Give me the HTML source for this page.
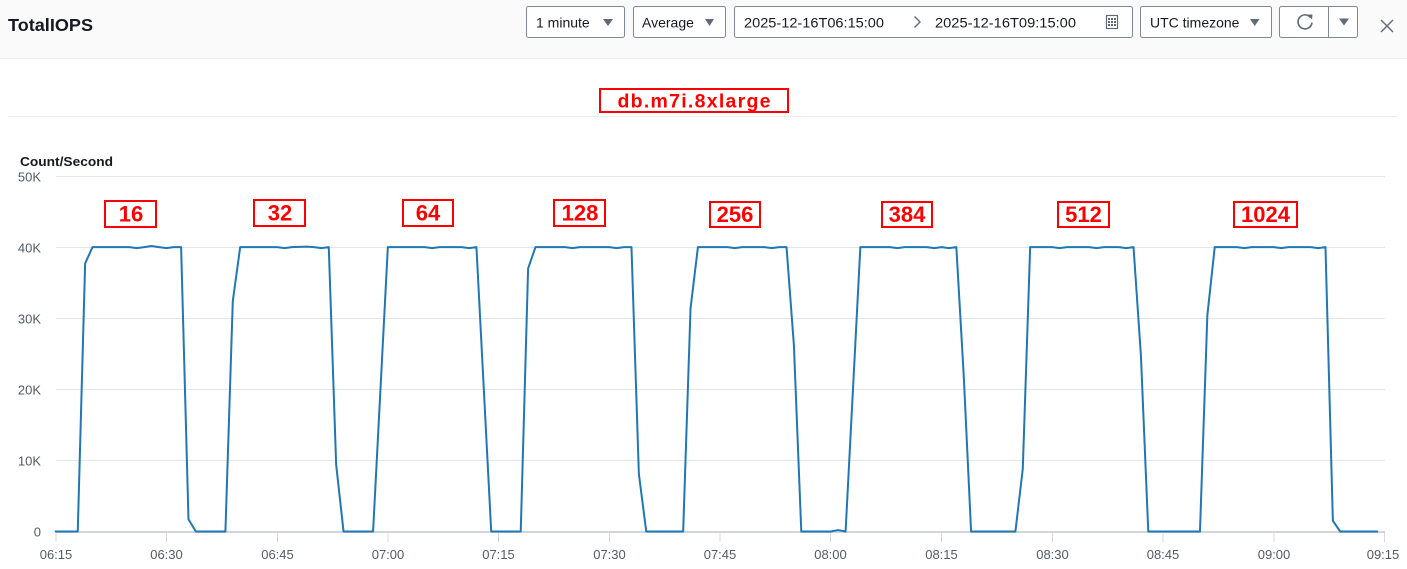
<!DOCTYPE html>
<html>
<head>
<meta charset="utf-8">
<style>
  html,body{margin:0;padding:0;background:#fff;}
  body{width:1407px;height:569px;overflow:hidden;}
  svg{display:block;font-family:"Liberation Sans",Arial,sans-serif;}
</style>
</head>
<body>
<svg width="1407" height="569" viewBox="0 0 1407 569" xmlns="http://www.w3.org/2000/svg">
  <!-- Header -->
  <rect x="0" y="0" width="1407" height="58" fill="#fafafa"/>
  <line x1="0" y1="58.5" x2="1407" y2="58.5" stroke="#e9ebed" stroke-width="1"/>
  <text x="8" y="31" font-size="17.5" font-weight="bold" fill="#16191f" textLength="85" lengthAdjust="spacingAndGlyphs">TotalIOPS</text>

  <g font-size="14" fill="#16191f">
    <rect x="526.5" y="6.5" width="98" height="31" rx="2" fill="#fff" stroke="#7d8998"/>
    <text x="536" y="27.5">1 minute</text>
    <polygon points="603,19 613,19 608,26" fill="#5f6b7a"/>

    <rect x="633.5" y="6.5" width="92" height="31" rx="2" fill="#fff" stroke="#7d8998"/>
    <text x="642" y="27.5">Average</text>
    <polygon points="705,19 714,19 709.5,26" fill="#5f6b7a"/>

    <rect x="734.5" y="6.5" width="398" height="31" rx="2" fill="#fff" stroke="#7d8998"/>
    <text x="744" y="27.5" textLength="140" lengthAdjust="spacingAndGlyphs">2025-12-16T06:15:00</text>
    <polyline points="914.5,16.5 920,22 914.5,27.5" fill="none" stroke="#5f6b7a" stroke-width="1.4"/>
    <text x="935" y="27.5" textLength="141" lengthAdjust="spacingAndGlyphs">2025-12-16T09:15:00</text>
    <!-- calendar icon -->
    <rect x="1106.5" y="15.5" width="11" height="13" fill="none" stroke="#5f6b7a" stroke-width="1.2"/>
    <g fill="#5f6b7a">
      <rect x="1108" y="18" width="2" height="2"/><rect x="1111" y="18" width="2" height="2"/><rect x="1114" y="18" width="2" height="2"/>
      <rect x="1108" y="21" width="2" height="2"/><rect x="1111" y="21" width="2" height="2"/><rect x="1114" y="21" width="2" height="2"/>
      <rect x="1108" y="24" width="2" height="2"/><rect x="1111" y="24" width="2" height="2"/><rect x="1114" y="24" width="2" height="2"/>
    </g>

    <rect x="1140.5" y="6.5" width="131" height="31" rx="2" fill="#fff" stroke="#7d8998"/>
    <text x="1150" y="27.5">UTC timezone</text>
    <polygon points="1250,19 1259.5,19 1254.75,26" fill="#5f6b7a"/>

    <rect x="1279.5" y="6.5" width="78" height="31" rx="2" fill="#fff" stroke="#7d8998"/>
    <line x1="1328.5" y1="7" x2="1328.5" y2="37" stroke="#7d8998"/>
    <path d="M1310.5,17.5 A7,7 0 1 0 1312,22.5" fill="none" stroke="#5f6b7a" stroke-width="1.6"/>
    <polygon points="1307.5,14.5 1312.5,14.5 1312,19.5" fill="#5f6b7a"/>
    <polygon points="1339,18.5 1349,18.5 1344,25.5" fill="#5f6b7a"/>
  </g>
  <!-- close X -->
  <line x1="1381" y1="20" x2="1393" y2="32" stroke="#5f6b7a" stroke-width="1.4"/>
  <line x1="1393" y1="20" x2="1381" y2="32" stroke="#5f6b7a" stroke-width="1.4"/>

  <!-- Chart title -->
  <rect x="600" y="89" width="188" height="23" fill="none" stroke="#ff0000" stroke-width="2"/>
  <text x="694" y="107.5" font-size="19.5" font-weight="bold" fill="#ff0000" text-anchor="middle" textLength="153" lengthAdjust="spacing">db.m7i.8xlarge</text>
  <line x1="8" y1="116.5" x2="1397" y2="116.5" stroke="#e9ebed" stroke-width="1"/>

  <!-- Y axis unit -->
  <text x="20" y="166" font-size="13" font-weight="bold" fill="#16191f" textLength="93" lengthAdjust="spacingAndGlyphs">Count/Second</text>

  <!-- gridlines -->
  <g stroke="#e3e6e8" stroke-width="1">
    <line x1="56" y1="176.5" x2="1385" y2="176.5"/>
    <line x1="56" y1="247.5" x2="1385" y2="247.5"/>
    <line x1="56" y1="318.5" x2="1385" y2="318.5"/>
    <line x1="56" y1="389.5" x2="1385" y2="389.5"/>
    <line x1="56" y1="460.5" x2="1385" y2="460.5"/>
  </g>
  <!-- ticks -->
  <g stroke="#d5dbdb" stroke-width="1">
    <line x1="56" y1="532" x2="56" y2="542"/>
    <line x1="166.5" y1="532" x2="166.5" y2="542"/>
    <line x1="277.5" y1="532" x2="277.5" y2="542"/>
    <line x1="388" y1="532" x2="388" y2="542"/>
    <line x1="498.5" y1="532" x2="498.5" y2="542"/>
    <line x1="609.5" y1="532" x2="609.5" y2="542"/>
    <line x1="720" y1="532" x2="720" y2="542"/>
    <line x1="830.5" y1="532" x2="830.5" y2="542"/>
    <line x1="941.5" y1="532" x2="941.5" y2="542"/>
    <line x1="1052.5" y1="532" x2="1052.5" y2="542"/>
    <line x1="1163" y1="532" x2="1163" y2="542"/>
    <line x1="1274" y1="532" x2="1274" y2="542"/>
    <line x1="1384.5" y1="532" x2="1384.5" y2="542"/>
  </g>
  <line x1="56" y1="532" x2="1385" y2="532" stroke="#d1d5db" stroke-width="2"/>

  <!-- Y labels -->
  <g font-size="13" fill="#545b64" text-anchor="end">
    <text x="41" y="181.5">50K</text>
    <text x="41" y="252.5">40K</text>
    <text x="41" y="323.5">30K</text>
    <text x="41" y="394.5">20K</text>
    <text x="41" y="465.5">10K</text>
    <text x="41" y="536.5">0</text>
  </g>
  <!-- X labels -->
  <g font-size="13" fill="#545b64" text-anchor="middle">
    <text x="56" y="559">06:15</text>
    <text x="166.5" y="559">06:30</text>
    <text x="277.5" y="559">06:45</text>
    <text x="388" y="559">07:00</text>
    <text x="498.5" y="559">07:15</text>
    <text x="609.5" y="559">07:30</text>
    <text x="720" y="559">07:45</text>
    <text x="830.5" y="559">08:00</text>
    <text x="941.5" y="559">08:15</text>
    <text x="1052.5" y="559">08:30</text>
    <text x="1163" y="559">08:45</text>
    <text x="1274" y="559">09:00</text>
    <text x="1383" y="559">09:15</text>
  </g>

  <!-- Series -->
  <path fill="none" stroke="#1f77b4" stroke-width="2" stroke-linejoin="round" stroke-linecap="round"
    d="M55.6,531.5 L77.75,531.5 L85.13,263.45 L92.52,247.1 L129.43,247.1 L136.81,248.17 L144.2,247.1 L151.58,246.03 L158.96,247.1 L166.35,248.17 L173.73,247.1 L181.11,247.1 L188.49,519.41 L195.88,531.5 L225.41,531.5 L232.79,301.14 L240.18,247.1 L277.09,247.1 L284.47,248.17 L291.86,247.1 L306.62,246.6 L314,247.1 L321.39,248.17 L328.77,247.1 L336.15,464.67 L343.54,531.5 L373.07,531.5 L387.84,247.1 L424.75,247.1 L432.13,248.17 L439.52,247.1 L461.66,247.1 L469.05,248.17 L476.43,247.1 L491.2,531.5 L520.73,531.5 L528.11,268.43 L535.5,247.1 L565.03,247.1 L572.41,248.17 L579.8,247.1 L609.33,247.1 L616.71,248.17 L624.09,247.1 L631.47,247.1 L638.86,473.91 L646.24,531.5 L683.16,531.5 L690.54,308.25 L697.92,247.1 L727.45,247.1 L734.84,248.17 L742.22,247.1 L764.37,247.1 L771.75,248.17 L779.14,247.1 L786.52,247.1 L793.9,345.22 L801.28,531.5 L830.82,531.5 L838.2,530.08 L845.58,531.5 L860.35,247.1 L889.88,247.1 L897.26,248.17 L904.65,247.1 L926.8,247.1 L934.18,248.17 L941.56,247.1 L948.94,248.17 L956.33,247.1 L963.71,375.08 L971.09,531.5 L1015.39,531.5 L1022.77,468.93 L1030.16,247.1 L1052.3,247.1 L1059.69,248.17 L1067.07,247.1 L1089.22,247.1 L1096.6,248.17 L1103.99,247.1 L1118.75,247.1 L1126.14,248.17 L1133.52,247.1 L1140.9,355.17 L1148.28,531.5 L1199.97,531.5 L1207.35,315.34 L1214.73,247.1 L1236.88,247.1 L1244.26,248.17 L1251.65,247.1 L1273.8,247.1 L1281.18,248.17 L1288.56,247.1 L1310.71,247.1 L1318.09,248.17 L1325.48,247.1 L1332.86,520.84 L1340.24,531.5 L1377.16,531.5"/>

  <!-- Annotation boxes -->
  <g fill="none" stroke="#ff0000" stroke-width="2">
    <rect x="105" y="201" width="51" height="26"/>
    <rect x="254" y="200" width="51" height="26"/>
    <rect x="403" y="200" width="50" height="26"/>
    <rect x="554" y="200" width="51" height="26"/>
    <rect x="710" y="202" width="50" height="25"/>
    <rect x="882" y="202" width="50" height="25"/>
    <rect x="1058" y="202" width="51" height="25"/>
    <rect x="1234" y="202" width="63" height="25"/>
  </g>
  <g font-size="22" font-weight="bold" fill="#ff0000" text-anchor="middle">
    <text x="131" y="221.5">16</text>
    <text x="280" y="220.5">32</text>
    <text x="428" y="220.5">64</text>
    <text x="580" y="220.5">128</text>
    <text x="735" y="222">256</text>
    <text x="907" y="222">384</text>
    <text x="1083.5" y="222">512</text>
    <text x="1265.5" y="222">1024</text>
  </g>
</svg>
</body>
</html>
